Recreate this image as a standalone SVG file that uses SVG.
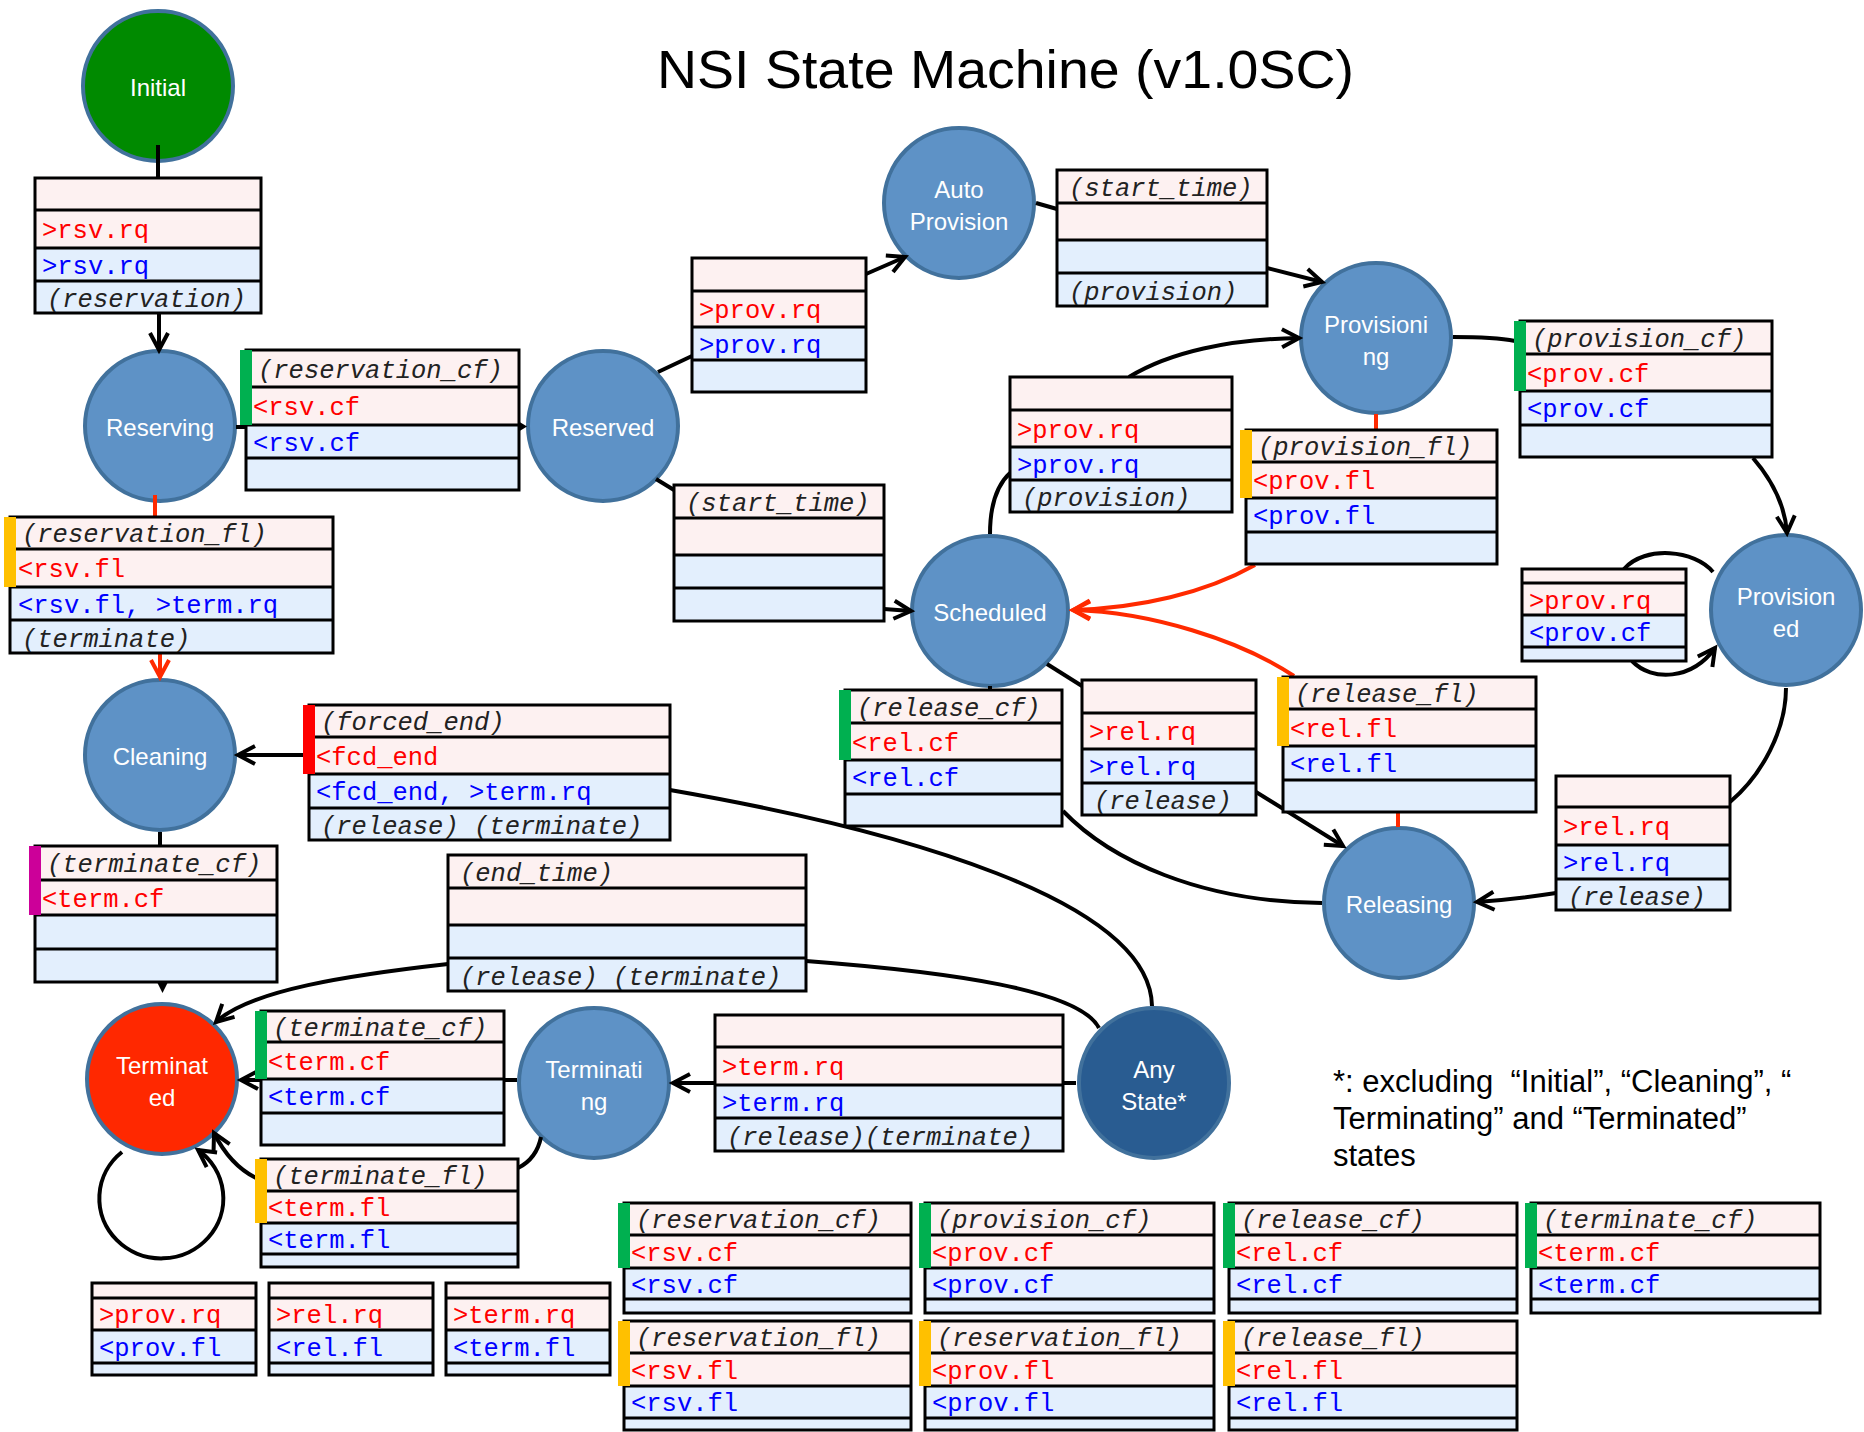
<svg xmlns="http://www.w3.org/2000/svg" width="1864" height="1432" viewBox="0 0 1864 1432">
<defs>
<style>
.pk{fill:#fdf1f1}.bl{fill:#e3effd}.bd{fill:none;stroke:#000;stroke-width:3}
.bg{fill:#00b050}.by{fill:#ffc000}.brd{fill:#ff0000}.bm{fill:#cc0099}
.tx{font-family:"Liberation Mono","Courier New",monospace;font-size:25.5px}
.r{fill:#ff0000}.b{fill:#0000ff}.i{fill:#222;font-style:italic}
.c{fill:none;stroke:#000;stroke-width:4}.cr{fill:none;stroke:#ff2a00;stroke-width:4}
.nd{fill:#5e92c6;stroke:#41719c;stroke-width:4}
.nt{font-family:"Liberation Sans",Arial,sans-serif;font-size:24px;fill:#fff;text-anchor:middle}
.note{font-family:"Liberation Sans",Arial,sans-serif;font-size:31px;fill:#000}
</style>
<marker id="ak" viewBox="0 0 24 24" refX="21" refY="12" markerWidth="24" markerHeight="24" markerUnits="userSpaceOnUse" orient="auto" overflow="visible"><path d="M4,3 L21,12 L4,21" fill="none" stroke="#000" stroke-width="4"/></marker>
<marker id="ar" viewBox="0 0 24 24" refX="21" refY="12" markerWidth="24" markerHeight="24" markerUnits="userSpaceOnUse" orient="auto" overflow="visible"><path d="M4,3 L21,12 L4,21" fill="none" stroke="#ff2a00" stroke-width="4"/></marker>
</defs>
<rect width="1864" height="1432" fill="#fff"/>

<g id="nodes">
<g id="n-initial"><circle cx="158" cy="86" r="75" fill="#008a00" stroke="#41719c" stroke-width="4"/><text class="nt" x="158" y="96">Initial</text></g>
<g id="n-reserving"><circle class="nd" cx="160" cy="426" r="75"/><text class="nt" x="160" y="436">Reserving</text></g>
<g id="n-reserved"><circle class="nd" cx="603" cy="426" r="75"/><text class="nt" x="603" y="436">Reserved</text></g>
<g id="n-autoprov"><circle class="nd" cx="959" cy="203" r="75"/><text class="nt" x="959" y="198">Auto</text><text class="nt" x="959" y="230">Provision</text></g>
<g id="n-provisioning"><circle class="nd" cx="1376" cy="338" r="75"/><text class="nt" x="1376" y="333">Provisioni</text><text class="nt" x="1376" y="365">ng</text></g>
<g id="n-scheduled"><ellipse class="nd" cx="990" cy="611" rx="78" ry="75"/><text class="nt" x="990" y="621">Scheduled</text></g>
<g id="n-provisioned"><circle class="nd" cx="1786" cy="610" r="75"/><text class="nt" x="1786" y="605">Provision</text><text class="nt" x="1786" y="637">ed</text></g>
<g id="n-releasing"><circle class="nd" cx="1399" cy="903" r="75"/><text class="nt" x="1399" y="913">Releasing</text></g>
<g id="n-cleaning"><circle class="nd" cx="160" cy="755" r="75"/><text class="nt" x="160" y="765">Cleaning</text></g>
<g id="n-terminated"><circle cx="162" cy="1079" r="75" fill="#ff2800" stroke="#41719c" stroke-width="4"/><text class="nt" x="162" y="1074">Terminat</text><text class="nt" x="162" y="1106">ed</text></g>
<g id="n-terminating"><circle class="nd" cx="594" cy="1083" r="75"/><text class="nt" x="594" y="1078">Terminati</text><text class="nt" x="594" y="1110">ng</text></g>
<g id="n-anystate"><circle cx="1154" cy="1083" r="75" fill="#295c91" stroke="#41719c" stroke-width="4"/><text class="nt" x="1154" y="1078">Any</text><text class="nt" x="1154" y="1110">State*</text></g>
</g>

<g id="connectors">
<path class="c" d="M158,145V178"/>
<path class="c" d="M159,313V350" marker-end="url(#ak)"/>
<path class="c" d="M236,427H246"/>
<polygon points="518,421 527,426.5 518,432" fill="#000"/>
<path class="c" d="M658,372L692,356"/>
<path class="c" d="M866,274L905,257" marker-end="url(#ak)"/>
<path class="c" d="M1036,203L1057,209"/>
<path class="c" d="M1267,268L1322,282" marker-end="url(#ak)"/>
<path class="c" d="M656,479L674,490"/>
<path class="c" d="M884,609L911,611" marker-end="url(#ak)"/>
<path class="c" d="M990,534C990,505 997,485 1010,473"/>
<path class="c" d="M1129,377C1170,352 1230,339 1299,338" marker-end="url(#ak)"/>
<path class="cr" d="M1376,414V430"/>
<path class="cr" d="M1255,565C1205,593 1140,608 1073,610" marker-end="url(#ar)"/>
<path class="c" d="M1453,337C1480,337 1500,338 1515,341"/>
<path class="c" d="M1753,458C1772,480 1785,505 1787,533" marker-end="url(#ak)"/>
<path class="c" d="M1713,572C1695,550 1645,545 1624,569"/>
<path class="c" d="M1632,661C1652,682 1692,680 1715,648" marker-end="url(#ak)"/>
<path class="c" d="M1786,688C1786,730 1762,775 1730,802"/>
<path class="c" d="M1556,893C1530,897 1505,900 1477,902" marker-end="url(#ak)"/>
<path class="cr" d="M1398,827V812"/>
<path class="cr" d="M1294,676C1240,640 1150,612 1073,610" marker-end="url(#ar)"/>
<path class="c" d="M1047,664L1082,686"/>
<path class="c" d="M1256,792L1343,846" marker-end="url(#ak)"/>
<path class="c" d="M990,686V690"/>
<path class="c" d="M1063,811C1110,860 1200,902 1322,903"/>
<path class="c" d="M304,755H238" marker-end="url(#ak)"/>
<path class="c" d="M670,790C900,830 1150,900 1152,1006"/>
<path class="c" d="M160,832V846"/>
<polygon points="157,982 168,982 162.5,993" fill="#000"/>
<path class="cr" d="M155,495V517"/>
<path class="cr" d="M160,653V677" marker-end="url(#ar)"/>
<path class="c" d="M1099,1028C1080,990 950,972 806,961"/>
<path class="c" d="M448,964C350,975 250,990 216,1022" marker-end="url(#ak)"/>
<path class="c" d="M1076,1083H673" marker-end="url(#ak)"/>
<path class="c" d="M517,1080H241" marker-end="url(#ak)"/>
<path class="c" d="M541,1137C538,1152 530,1162 518,1168"/>
<path class="c" d="M256,1178C240,1170 225,1155 214,1133" marker-end="url(#ak)"/>
<path class="c" d="M122,1152A62,60 0 1 0 198,1150" marker-end="url(#ak)"/>
</g>

<g id="tables">
<g id="t1"><rect class="pk" x="35" y="178" width="226" height="70"/><rect class="bl" x="35" y="248" width="226" height="65"/><path class="bd" d="M35,178H261V313H35ZM35,210H261M35,248H261M35,281H261"/><text class="tx r" x="42" y="238">&gt;rsv.rq</text><text class="tx b" x="42" y="273.5">&gt;rsv.rq</text><text class="tx i" x="47" y="307">(reservation)</text></g>
<g id="t2"><rect class="pk" x="246" y="350" width="273" height="75"/><rect class="bl" x="246" y="425" width="273" height="65"/><path class="bd" d="M246,350H519V490H246ZM246,387H519M246,425H519M246,458H519"/><rect class="bg" x="240" y="350" width="12" height="75"/><text class="tx i" x="258" y="377.5">(reservation_cf)</text><text class="tx r" x="253" y="415">&lt;rsv.cf</text><text class="tx b" x="253" y="450.5">&lt;rsv.cf</text></g>
<g id="t3"><rect class="pk" x="10" y="517" width="323" height="70"/><rect class="bl" x="10" y="587" width="323" height="66"/><path class="bd" d="M10,517H333V653H10ZM10,549H333M10,587H333M10,620H333"/><rect class="by" x="4" y="517" width="12" height="70"/><text class="tx i" x="22" y="542">(reservation_fl)</text><text class="tx r" x="18" y="577">&lt;rsv.fl</text><text class="tx b" x="18" y="612.5">&lt;rsv.fl, &gt;term.rq</text><text class="tx i" x="22" y="646.5">(terminate)</text></g>
<g id="t4"><rect class="pk" x="309" y="705" width="361" height="69"/><rect class="bl" x="309" y="774" width="361" height="66"/><path class="bd" d="M309,705H670V840H309ZM309,737H670M309,774H670M309,808H670"/><rect class="brd" x="303" y="705" width="12" height="69"/><text class="tx i" x="321" y="730">(forced_end)</text><text class="tx r" x="316" y="764.5">&lt;fcd_end</text><text class="tx b" x="316" y="800">&lt;fcd_end, &gt;term.rq</text><text class="tx i" x="321" y="834">(release) (terminate)</text></g>
<g id="t5"><rect class="pk" x="35" y="846" width="242" height="69"/><rect class="bl" x="35" y="915" width="242" height="67"/><path class="bd" d="M35,846H277V982H35ZM35,880H277M35,915H277M35,949H277"/><rect class="bm" x="29" y="846" width="12" height="69"/><text class="tx i" x="47" y="872">(terminate_cf)</text><text class="tx r" x="42" y="906.5">&lt;term.cf</text></g>
<g id="t6"><rect class="pk" x="448" y="855" width="358" height="70"/><rect class="bl" x="448" y="925" width="358" height="66"/><path class="bd" d="M448,855H806V991H448ZM448,888H806M448,925H806M448,958H806"/><text class="tx i" x="460" y="880.5">(end_time)</text><text class="tx i" x="460" y="984.5">(release) (terminate)</text></g>
<g id="t7"><rect class="pk" x="261" y="1011" width="243" height="68"/><rect class="bl" x="261" y="1079" width="243" height="66"/><path class="bd" d="M261,1011H504V1145H261ZM261,1042H504M261,1079H504M261,1113H504"/><rect class="bg" x="255" y="1011" width="12" height="68"/><text class="tx i" x="273" y="1035.5">(terminate_cf)</text><text class="tx r" x="268" y="1069.5">&lt;term.cf</text><text class="tx b" x="268" y="1105">&lt;term.cf</text></g>
<g id="t8"><rect class="pk" x="261" y="1159" width="257" height="64"/><rect class="bl" x="261" y="1223" width="257" height="44"/><path class="bd" d="M261,1159H518V1267H261ZM261,1191H518M261,1223H518M261,1254H518"/><rect class="by" x="255" y="1159" width="12" height="64"/><text class="tx i" x="273" y="1184">(terminate_fl)</text><text class="tx r" x="268" y="1216">&lt;term.fl</text><text class="tx b" x="268" y="1247.5">&lt;term.fl</text></g>
<g id="t9"><rect class="pk" x="715" y="1015" width="348" height="70"/><rect class="bl" x="715" y="1085" width="348" height="66"/><path class="bd" d="M715,1015H1063V1151H715ZM715,1047H1063M715,1085H1063M715,1118H1063"/><text class="tx r" x="722" y="1075">&gt;term.rq</text><text class="tx b" x="722" y="1110.5">&gt;term.rq</text><text class="tx i" x="727" y="1144.5">(release)(terminate)</text></g>
<g id="t10"><rect class="pk" x="692" y="258" width="174" height="69"/><rect class="bl" x="692" y="327" width="174" height="65"/><path class="bd" d="M692,258H866V392H692ZM692,291H866M692,327H866M692,360H866"/><text class="tx r" x="699" y="318">&gt;prov.rq</text><text class="tx b" x="699" y="352.5">&gt;prov.rq</text></g>
<g id="t11"><rect class="pk" x="1057" y="170" width="210" height="70"/><rect class="bl" x="1057" y="240" width="210" height="66"/><path class="bd" d="M1057,170H1267V306H1057ZM1057,203H1267M1057,240H1267M1057,273H1267"/><text class="tx i" x="1069" y="195.5">(start_time)</text><text class="tx i" x="1069" y="299.5">(provision)</text></g>
<g id="t12"><rect class="pk" x="1010" y="377" width="222" height="70"/><rect class="bl" x="1010" y="447" width="222" height="65"/><path class="bd" d="M1010,377H1232V512H1010ZM1010,410H1232M1010,447H1232M1010,480H1232"/><text class="tx r" x="1017" y="437.5">&gt;prov.rq</text><text class="tx b" x="1017" y="472.5">&gt;prov.rq</text><text class="tx i" x="1022" y="506">(provision)</text></g>
<g id="t13"><rect class="pk" x="1246" y="430" width="251" height="68"/><rect class="bl" x="1246" y="498" width="251" height="66"/><path class="bd" d="M1246,430H1497V564H1246ZM1246,462H1497M1246,498H1497M1246,532H1497"/><rect class="by" x="1240" y="430" width="12" height="68"/><text class="tx i" x="1258" y="455">(provision_fl)</text><text class="tx r" x="1253" y="489">&lt;prov.fl</text><text class="tx b" x="1253" y="524">&lt;prov.fl</text></g>
<g id="t14"><rect class="pk" x="1283" y="677" width="253" height="69"/><rect class="bl" x="1283" y="746" width="253" height="66"/><path class="bd" d="M1283,677H1536V812H1283ZM1283,709H1536M1283,746H1536M1283,780H1536"/><rect class="by" x="1277" y="677" width="12" height="69"/><text class="tx i" x="1295" y="702">(release_fl)</text><text class="tx r" x="1290" y="736.5">&lt;rel.fl</text><text class="tx b" x="1290" y="772">&lt;rel.fl</text></g>
<g id="t15"><rect class="pk" x="1520" y="321" width="252" height="70"/><rect class="bl" x="1520" y="391" width="252" height="66"/><path class="bd" d="M1520,321H1772V457H1520ZM1520,354H1772M1520,391H1772M1520,425H1772"/><rect class="bg" x="1514" y="321" width="12" height="70"/><text class="tx i" x="1532" y="346.5">(provision_cf)</text><text class="tx r" x="1527" y="381.5">&lt;prov.cf</text><text class="tx b" x="1527" y="417">&lt;prov.cf</text></g>
<g id="t16"><rect class="pk" x="1522" y="569" width="164" height="46"/><rect class="bl" x="1522" y="615" width="164" height="46"/><path class="bd" d="M1522,569H1686V661H1522ZM1522,583H1686M1522,615H1686M1522,647H1686"/><text class="tx r" x="1529" y="609">&gt;prov.rq</text><text class="tx b" x="1529" y="641">&lt;prov.cf</text></g>
<g id="t17"><rect class="pk" x="1556" y="776" width="174" height="69"/><rect class="bl" x="1556" y="845" width="174" height="65"/><path class="bd" d="M1556,776H1730V910H1556ZM1556,807H1730M1556,845H1730M1556,879H1730"/><text class="tx r" x="1563" y="835">&gt;rel.rq</text><text class="tx b" x="1563" y="871">&gt;rel.rq</text><text class="tx i" x="1568" y="904.5">(release)</text></g>
<g id="t18"><rect class="pk" x="674" y="485" width="210" height="70"/><rect class="bl" x="674" y="555" width="210" height="66"/><path class="bd" d="M674,485H884V621H674ZM674,518H884M674,555H884M674,588H884"/><text class="tx i" x="686" y="510.5">(start_time)</text></g>
<g id="t19"><rect class="pk" x="845" y="690" width="217" height="70"/><rect class="bl" x="845" y="760" width="217" height="66"/><path class="bd" d="M845,690H1062V826H845ZM845,723H1062M845,760H1062M845,794H1062"/><rect class="bg" x="839" y="690" width="12" height="70"/><text class="tx i" x="857" y="715.5">(release_cf)</text><text class="tx r" x="852" y="750.5">&lt;rel.cf</text><text class="tx b" x="852" y="786">&lt;rel.cf</text></g>
<g id="t20"><rect class="pk" x="1082" y="680" width="174" height="69"/><rect class="bl" x="1082" y="749" width="174" height="66"/><path class="bd" d="M1082,680H1256V815H1082ZM1082,713H1256M1082,749H1256M1082,783H1256"/><text class="tx r" x="1089" y="740">&gt;rel.rq</text><text class="tx b" x="1089" y="775">&gt;rel.rq</text><text class="tx i" x="1094" y="809">(release)</text></g>
</g>

<g id="legend">
<g id="l1"><rect class="pk" x="624" y="1203" width="287" height="65"/><rect class="bl" x="624" y="1268" width="287" height="45"/><path class="bd" d="M624,1203H911V1313H624ZM624,1235H911M624,1268H911M624,1299H911"/><rect class="bg" x="618" y="1203" width="12" height="65"/><text class="tx i" x="636" y="1228">(reservation_cf)</text><text class="tx r" x="631" y="1260.5">&lt;rsv.cf</text><text class="tx b" x="631" y="1292.5">&lt;rsv.cf</text></g>
<g id="l2"><rect class="pk" x="925" y="1203" width="289" height="65"/><rect class="bl" x="925" y="1268" width="289" height="45"/><path class="bd" d="M925,1203H1214V1313H925ZM925,1235H1214M925,1268H1214M925,1299H1214"/><rect class="bg" x="919" y="1203" width="12" height="65"/><text class="tx i" x="937" y="1228">(provision_cf)</text><text class="tx r" x="932" y="1260.5">&lt;prov.cf</text><text class="tx b" x="932" y="1292.5">&lt;prov.cf</text></g>
<g id="l5"><rect class="pk" x="1229" y="1203" width="288" height="65"/><rect class="bl" x="1229" y="1268" width="288" height="45"/><path class="bd" d="M1229,1203H1517V1313H1229ZM1229,1235H1517M1229,1268H1517M1229,1299H1517"/><rect class="bg" x="1223" y="1203" width="12" height="65"/><text class="tx i" x="1241" y="1228">(release_cf)</text><text class="tx r" x="1236" y="1260.5">&lt;rel.cf</text><text class="tx b" x="1236" y="1292.5">&lt;rel.cf</text></g>
<g id="l6"><rect class="pk" x="1531" y="1203" width="289" height="65"/><rect class="bl" x="1531" y="1268" width="289" height="45"/><path class="bd" d="M1531,1203H1820V1313H1531ZM1531,1235H1820M1531,1268H1820M1531,1299H1820"/><rect class="bg" x="1525" y="1203" width="12" height="65"/><text class="tx i" x="1543" y="1228">(terminate_cf)</text><text class="tx r" x="1538" y="1260.5">&lt;term.cf</text><text class="tx b" x="1538" y="1292.5">&lt;term.cf</text></g>
<g id="l3"><rect class="pk" x="624" y="1321" width="287" height="65"/><rect class="bl" x="624" y="1386" width="287" height="44"/><path class="bd" d="M624,1321H911V1430H624ZM624,1353H911M624,1386H911M624,1418H911"/><rect class="by" x="618" y="1321" width="12" height="65"/><text class="tx i" x="636" y="1346">(reservation_fl)</text><text class="tx r" x="631" y="1378.5">&lt;rsv.fl</text><text class="tx b" x="631" y="1411">&lt;rsv.fl</text></g>
<g id="l4"><rect class="pk" x="925" y="1321" width="289" height="65"/><rect class="bl" x="925" y="1386" width="289" height="44"/><path class="bd" d="M925,1321H1214V1430H925ZM925,1353H1214M925,1386H1214M925,1418H1214"/><rect class="by" x="919" y="1321" width="12" height="65"/><text class="tx i" x="937" y="1346">(reservation_fl)</text><text class="tx r" x="932" y="1378.5">&lt;prov.fl</text><text class="tx b" x="932" y="1411">&lt;prov.fl</text></g>
<g id="l7"><rect class="pk" x="1229" y="1321" width="288" height="65"/><rect class="bl" x="1229" y="1386" width="288" height="44"/><path class="bd" d="M1229,1321H1517V1430H1229ZM1229,1353H1517M1229,1386H1517M1229,1418H1517"/><rect class="by" x="1223" y="1321" width="12" height="65"/><text class="tx i" x="1241" y="1346">(release_fl)</text><text class="tx r" x="1236" y="1378.5">&lt;rel.fl</text><text class="tx b" x="1236" y="1411">&lt;rel.fl</text></g>
<g id="s1"><rect class="pk" x="92" y="1283" width="164" height="47"/><rect class="bl" x="92" y="1330" width="164" height="45"/><path class="bd" d="M92,1283H256V1375H92ZM92,1298H256M92,1330H256M92,1363H256"/><text class="tx r" x="99" y="1323">&gt;prov.rq</text><text class="tx b" x="99" y="1355.5">&lt;prov.fl</text></g>
<g id="s2"><rect class="pk" x="269" y="1283" width="164" height="47"/><rect class="bl" x="269" y="1330" width="164" height="45"/><path class="bd" d="M269,1283H433V1375H269ZM269,1298H433M269,1330H433M269,1363H433"/><text class="tx r" x="276" y="1323">&gt;rel.rq</text><text class="tx b" x="276" y="1355.5">&lt;rel.fl</text></g>
<g id="s3"><rect class="pk" x="446" y="1283" width="164" height="47"/><rect class="bl" x="446" y="1330" width="164" height="45"/><path class="bd" d="M446,1283H610V1375H446ZM446,1298H610M446,1330H610M446,1363H610"/><text class="tx r" x="453" y="1323">&gt;term.rq</text><text class="tx b" x="453" y="1355.5">&lt;term.fl</text></g>
</g>

<text id="title" x="657" y="88" font-family="Liberation Sans, Arial, sans-serif" font-size="54" textLength="697" lengthAdjust="spacingAndGlyphs">NSI State Machine (v1.0SC)</text>
<g id="note">
<text class="note" x="1333" y="1092">*: excluding&#160; “Initial”, “Cleaning”, “</text>
<text class="note" x="1333" y="1129">Terminating” and “Terminated”</text>
<text class="note" x="1333" y="1166">states</text>
</g>
</svg>
